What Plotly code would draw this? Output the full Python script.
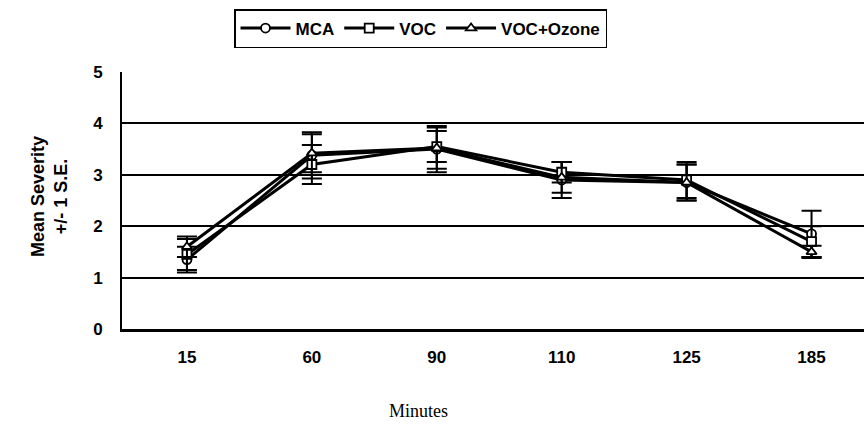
import plotly.graph_objects as go

# Sampling times (minutes) and mean severity per treatment, with +/- 1 S.E.
minutes = ["15", "60", "90", "110", "125", "185"]
mca = [1.35, 3.38, 3.50, 2.90, 2.85, 1.85]
mca_se = [0.25, 0.45, 0.45, 0.35, 0.35, 0.45]
voc = [1.45, 3.20, 3.55, 3.05, 2.90, 1.70]
voc_se = [0.30, 0.38, 0.30, 0.20, 0.35, 0.30]
voc_ozone = [1.60, 3.42, 3.52, 2.95, 2.85, 1.50]
voc_ozone_se = [0.20, 0.37, 0.40, 0.30, 0.35, 0.12]

series = [
    ("MCA", mca, mca_se, "circle"),
    ("VOC", voc, voc_se, "square"),
    ("VOC+Ozone", voc_ozone, voc_ozone_se, "triangle-up"),
]

pos = list(range(len(minutes)))
bold = dict(family="Liberation Sans, Arial, sans-serif", size=17, color="black", weight="bold")

fig = go.Figure()
for name, vals, se, sym in series:
    fig.add_trace(go.Scatter(
        x=pos, y=vals, name=name, mode="lines+markers",
        line=dict(color="black", width=3),
        marker=dict(symbol=sym, size=9, color="white", line=dict(width=1.8, color="black")),
        error_y=dict(type="data", array=se, visible=True, color="black", thickness=2, width=10),
    ))

fig.update_layout(
    width=864, height=438,
    margin=dict(l=122, r=0, t=72, b=109),
    plot_bgcolor="white", paper_bgcolor="white",
    showlegend=True,
    legend=dict(
        orientation="h", x=(234 - 122) / 742, xanchor="left", y=(329 - 9) / 257, yanchor="top",
        bordercolor="black", borderwidth=1.5, font=bold,
        itemwidth=50, tracegroupgap=0, bgcolor="white",
    ),
    xaxis=dict(
        range=[-0.52, 5.42], tickmode="array", tickvals=pos, ticktext=minutes,
        showgrid=False, zeroline=False, showline=True, linecolor="black", linewidth=2.5,
        ticks="", tickfont=bold, ticklabelstandoff=11,
    ),
    yaxis=dict(
        range=[0, 5], tickvals=[0, 1, 2, 3, 4, 5], showgrid=True, gridcolor="black",
        gridwidth=1.5, zeroline=False, showline=True, linecolor="black", linewidth=2,
        ticks="", tickfont=bold, ticklabelstandoff=14,
    ),
    annotations=[
        dict(text="Mean Severity<br>+/- 1 S.E.", textangle=-90, xref="paper", yref="paper",
             x=(49 - 122) / 742, y=(329 - 197) / 257, showarrow=False,
             font=dict(bold, size=18), xanchor="center", yanchor="middle"),
        dict(text="Minutes", xref="paper", yref="paper",
             x=(418 - 122) / 742, y=(329 - 411) / 257, showarrow=False,
             font=dict(family="Liberation Serif, Times New Roman, serif", size=18, color="black"),
             xanchor="center", yanchor="middle"),
    ],
)

fig.write_html("out.html")
